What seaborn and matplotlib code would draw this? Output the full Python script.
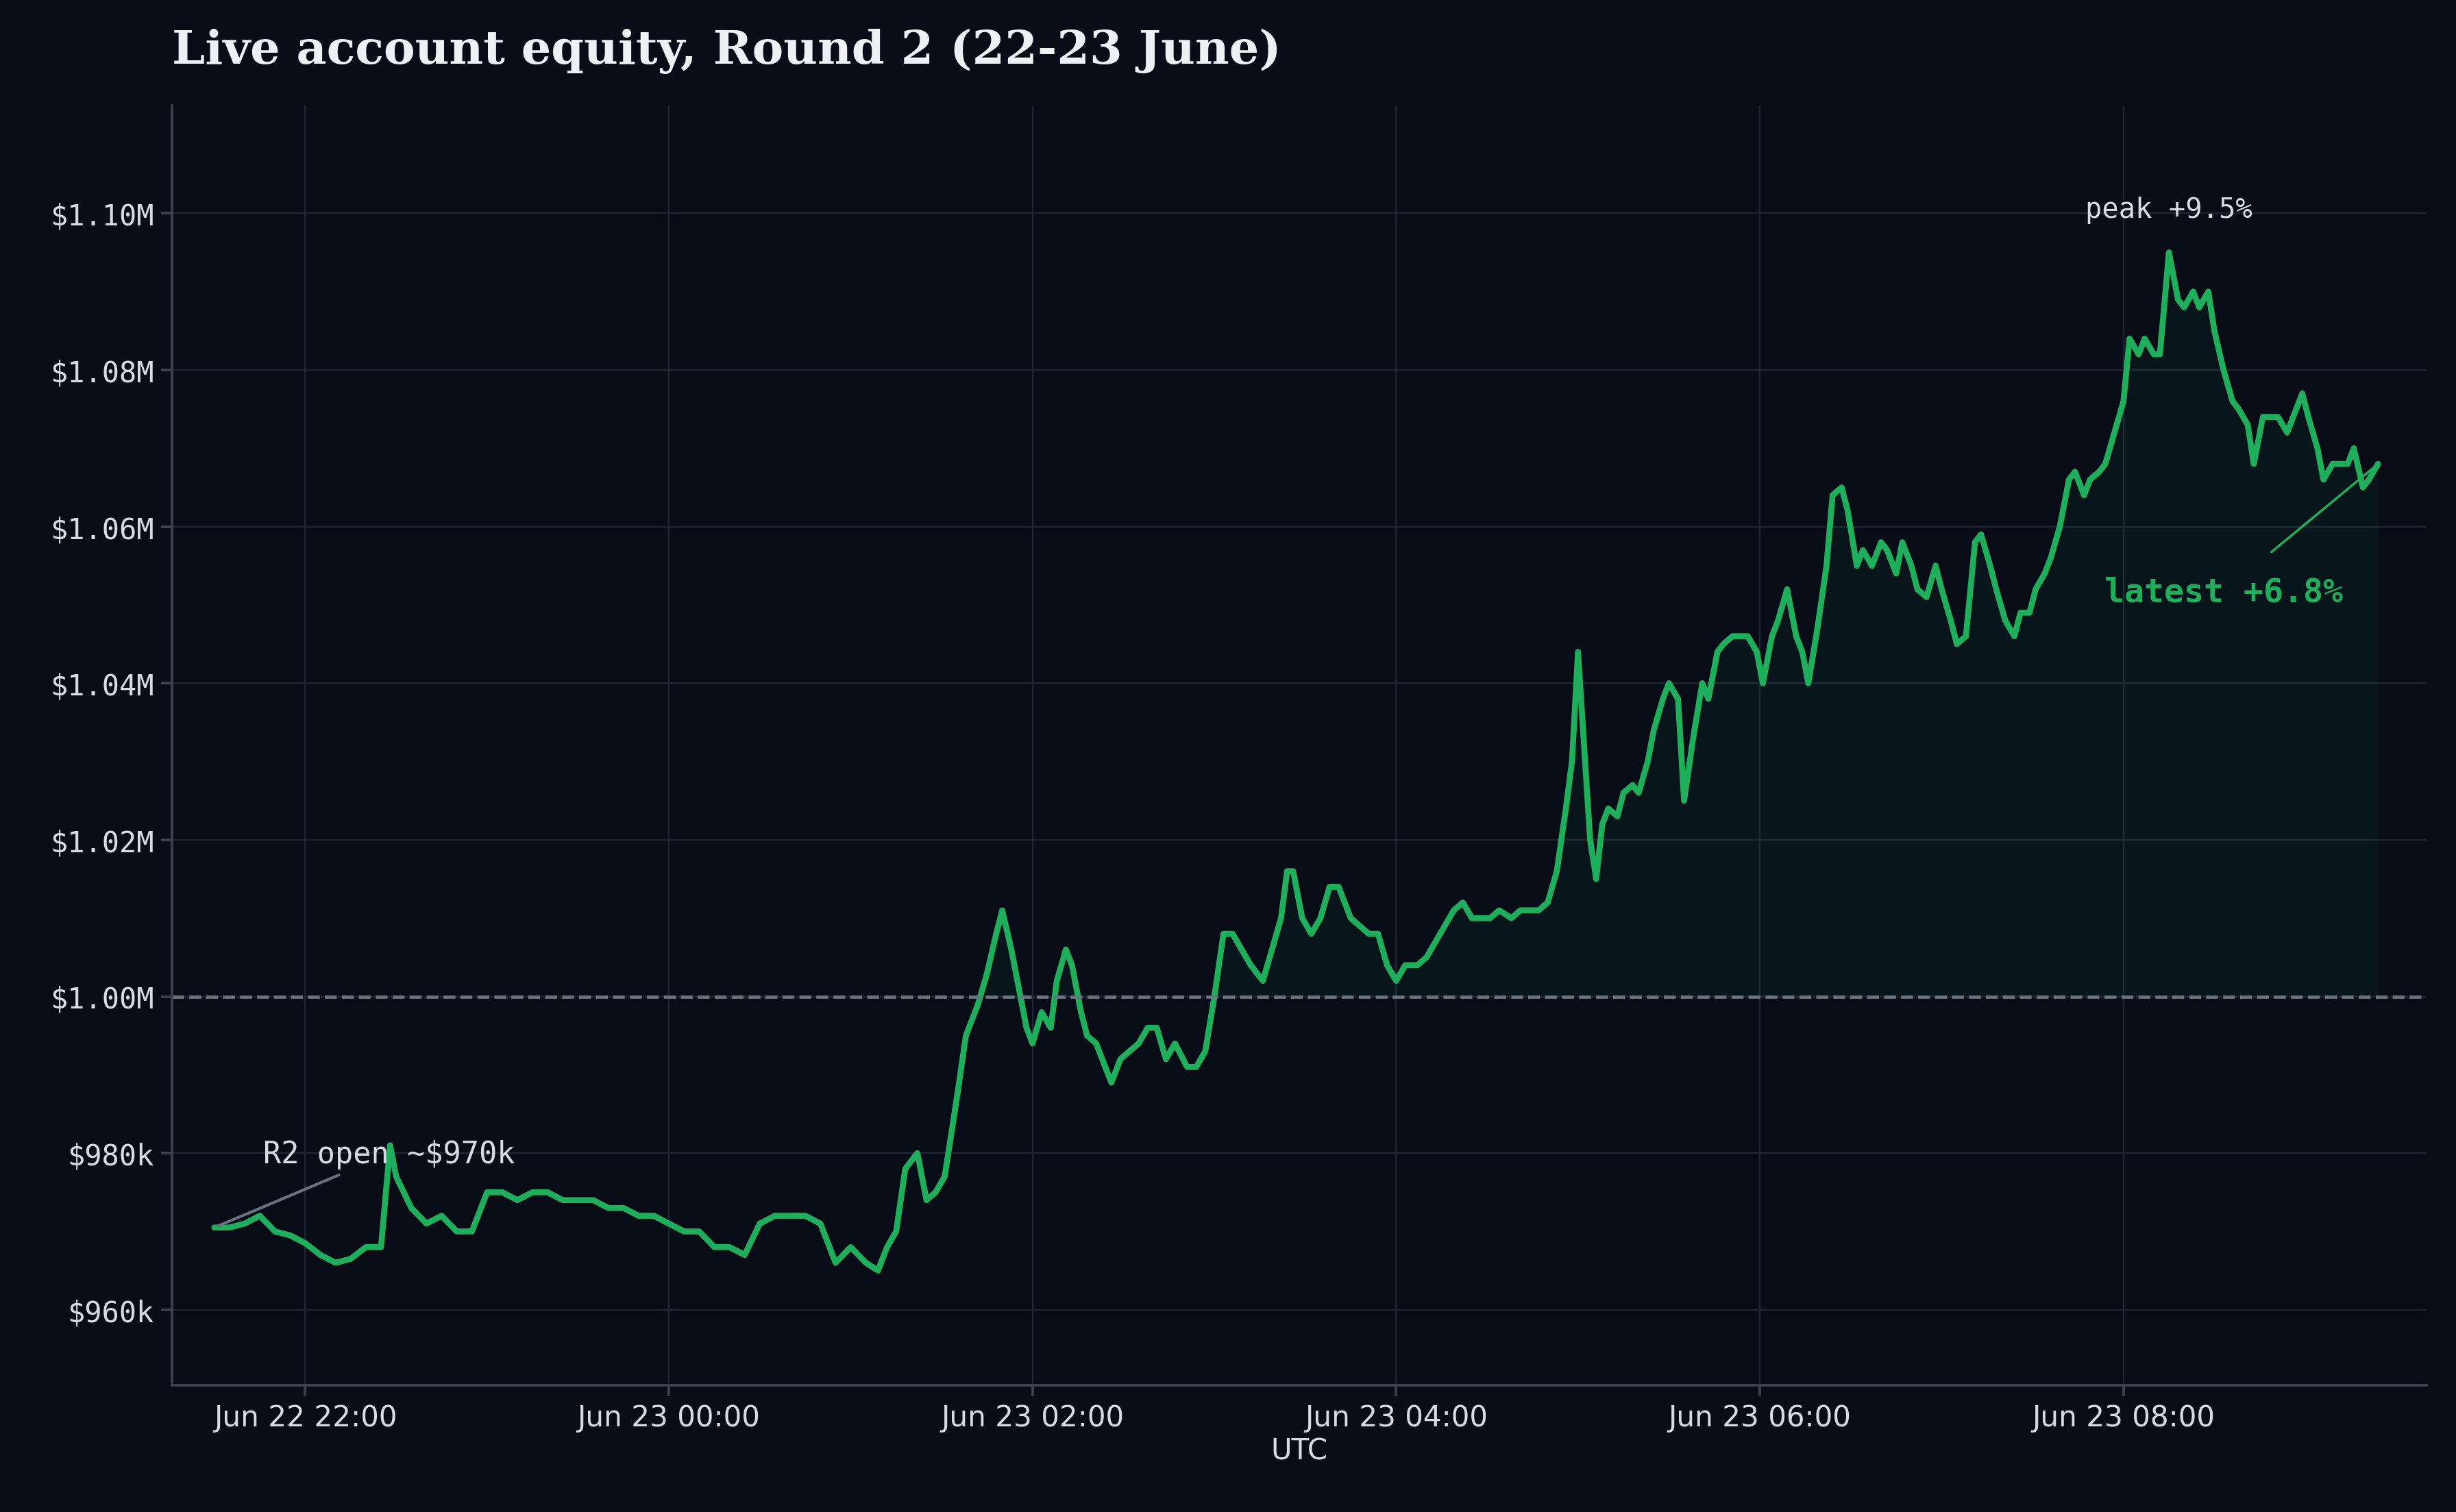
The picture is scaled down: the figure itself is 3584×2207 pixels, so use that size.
import pandas as pd
import numpy as np
import matplotlib
matplotlib.use("Agg")
import matplotlib.pyplot as plt
import matplotlib.dates as mdates
from matplotlib.ticker import FuncFormatter
import seaborn as sns

START = pd.Timestamp("2025-06-22 21:30")

# minutes since START, equity in $k
minutes = [0, 5, 10, 15, 20, 25, 30, 35, 40, 45, 50, 55, 58, 60, 65, 70, 75, 80, 85, 90,
           95, 100, 105, 110, 115, 120, 125, 130, 135, 140, 145, 150, 155, 160, 165, 170, 175, 180, 185, 190,
           195, 200, 205, 210, 215, 219, 222, 225, 228, 232, 235, 238, 241, 245, 248, 252, 255, 258, 260, 263,
           265, 268, 270, 273, 276, 278, 281, 283, 286, 288, 291, 294, 296, 299, 302, 305, 308, 311, 314, 317,
           321, 324, 327, 330, 333, 336, 339, 342, 346, 349, 352, 354, 356, 359, 362, 365, 368, 371, 375, 378,
           381, 384, 387, 390, 393, 397, 400, 403, 406, 409, 412, 415, 418, 421, 424, 428, 431, 434, 437, 440,
           443, 446, 448, 450, 452, 454, 456, 458, 460, 463, 465, 468, 470, 473, 475, 478, 480, 483, 485, 488,
           491, 493, 496, 498, 501, 504, 506, 509, 511, 514, 516, 519, 522, 524, 526, 529, 532, 534, 537, 539,
           542, 544, 547, 550, 552, 555, 557, 560, 562, 565, 568, 570, 573, 575, 578, 581, 583, 586, 588, 591,
           594, 596, 599, 601, 604, 606, 609, 612, 614, 617, 619, 622, 624, 627, 630, 632, 635, 637, 640, 642,
           645, 648, 650, 653, 655, 658, 660, 663, 666, 668, 671, 673, 676, 678, 681, 684, 686, 689, 691, 694,
           696, 699, 701, 704, 706, 709, 711, 714]
equity_k = [970.5, 970.5, 971, 972, 970, 969.5, 968.5, 967, 966, 966.5, 968, 968, 981, 977, 973, 971, 972, 970, 970, 975,
            975, 974, 975, 975, 974, 974, 974, 973, 973, 972, 972, 971, 970, 970, 968, 968, 967, 971, 972, 972,
            972, 971, 966, 968, 966, 965, 968, 970, 978, 980, 974, 975, 977, 987, 995, 999, 1003, 1008, 1011, 1006,
            1002, 996, 994, 998, 996, 1002, 1006, 1004, 998, 995, 994, 991, 989, 992, 993, 994, 996, 996, 992, 994,
            991, 991, 993, 1000, 1008, 1008, 1006, 1004, 1002, 1006, 1010, 1016, 1016, 1010, 1008, 1010, 1014, 1014, 1010, 1009,
            1008, 1008, 1004, 1002, 1004, 1004, 1005, 1007, 1009, 1011, 1012, 1010, 1010, 1010, 1011, 1010, 1011, 1011, 1011, 1012,
            1016, 1024, 1030, 1044, 1032, 1020, 1015, 1022, 1024, 1023, 1026, 1027, 1026, 1030, 1034, 1038, 1040, 1038, 1025, 1033,
            1040, 1038, 1044, 1045, 1046, 1046, 1046, 1044, 1040, 1046, 1048, 1052, 1046, 1044, 1040, 1047, 1055, 1064, 1065, 1062,
            1055, 1057, 1055, 1058, 1057, 1054, 1058, 1055, 1052, 1051, 1055, 1052, 1048, 1045, 1046, 1058, 1059, 1055, 1052, 1048,
            1046, 1049, 1049, 1052, 1054, 1056, 1060, 1066, 1067, 1064, 1066, 1067, 1068, 1072, 1076, 1084, 1082, 1084, 1082, 1082,
            1095, 1089, 1088, 1090, 1088, 1090, 1085, 1080, 1076, 1075, 1073, 1068, 1074, 1074, 1074, 1072, 1074, 1077, 1074, 1070,
            1066, 1068, 1068, 1068, 1070, 1065, 1066, 1068]

BASELINE = 1_000_000
BG = "#070c17"
GREEN = "#1fae5b"
TEXT = "#d7dce4"

df = pd.DataFrame({"time": START + pd.to_timedelta(minutes, unit="m"),
                   "equity": np.array(equity_k) * 1000})

sns.set_theme(style="dark")
plt.rcParams["font.family"] = ["DejaVu Sans Mono"]

fig = plt.figure(figsize=(16, 9.857), dpi=224, facecolor=BG)
ax = fig.add_axes([0.070, 0.084, 0.918, 0.846], facecolor=BG)

sns.lineplot(data=df, x="time", y="equity", color=GREEN, linewidth=2.8, ax=ax)
ax.fill_between(df["time"], BASELINE, df["equity"], where=df["equity"] > BASELINE,
                interpolate=True, color=GREEN, alpha=0.06, linewidth=0)
ax.axhline(BASELINE, color="#6b7384", linestyle="--", linewidth=1.5)

ax.set_ylim(950_400, 1_113_800)
ax.set_xlim(START - pd.Timedelta(minutes=14), START + pd.Timedelta(minutes=730))
ax.yaxis.set_major_formatter(FuncFormatter(
    lambda v, _: f"${v / 1e6:.2f}M" if v >= 1e6 else f"${v / 1e3:.0f}k"))
ax.xaxis.set_major_locator(mdates.HourLocator(byhour=range(0, 24, 2)))
ax.xaxis.set_major_formatter(mdates.DateFormatter("%b %d %H:%M"))

ax.grid(True, color="#1f2633", linewidth=0.8)
for s in ["top", "right"]:
    ax.spines[s].set_visible(False)
for s in ["left", "bottom"]:
    ax.spines[s].set_color("#3a4150")
ax.tick_params(colors=TEXT, labelsize=13.5, length=5, color="#3a4150", bottom=True, left=True)
for lab in ax.get_xticklabels():
    lab.set_family("DejaVu Sans")
ax.set_xlabel("UTC", color=TEXT, fontsize=13.5, family="DejaVu Sans", labelpad=2)
ax.set_ylabel("")

fig.text(0.070, 0.966, "Live account equity, Round 2 (22-23 June)", color="#eef0f4",
         fontsize=22, fontweight="bold", family="DejaVu Serif", va="center")

t0, v0 = df["time"].iloc[0], df["equity"].iloc[0]
ax.annotate("R2 open ~$970k", xy=(t0, v0), xytext=(START + pd.Timedelta(minutes=16), 978_800),
            color=TEXT, fontsize=14, arrowprops=dict(arrowstyle="-", color="#6b7384", lw=1.3))
ipk = df["equity"].idxmax()
ax.text(df["time"].iloc[ipk], 1_099_500, "peak +9.5%", color=TEXT, fontsize=13, ha="center")
t1, v1 = df["time"].iloc[-1], df["equity"].iloc[-1]
ax.annotate("latest +6.8%", xy=(t1, v1), xytext=(START + pd.Timedelta(minutes=663), 1_050_500),
            color=GREEN, fontsize=15.5, fontweight="bold", ha="center",
            arrowprops=dict(arrowstyle="-", color=GREEN, lw=1.1, shrinkA=14))

fig.savefig("out.png", dpi=224, facecolor=BG)
